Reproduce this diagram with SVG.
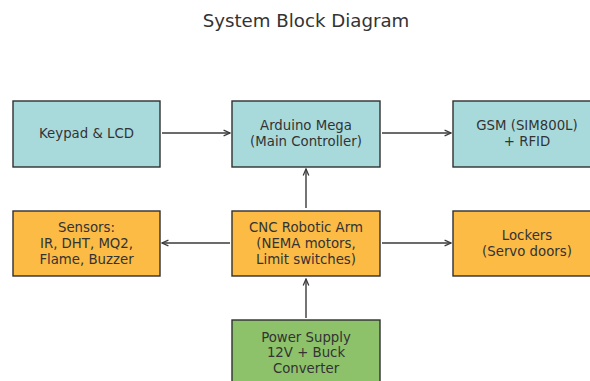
<svg xmlns="http://www.w3.org/2000/svg" width="590" height="381" viewBox="0 0 590 381">
  <style>
    .box { stroke: #2f2f2f; stroke-width: 1.4; }
    .ctrl { fill: #a8dadc; }
    .mech { fill: #fbbb45; }
    .power { fill: #8dc26b; }
    .lbl { font-family: "DejaVu Sans", sans-serif; font-size: 13.3px; fill: #333333; text-anchor: middle; }
    .title { font-family: "DejaVu Sans", sans-serif; font-size: 18.2px; fill: #333333; text-anchor: middle; }
    .conn { stroke: #3a3a3a; stroke-width: 1.4; fill: none; marker-end: url(#head); }
  </style>
  <defs>
    <marker id="head" viewBox="0 0 10 10" refX="9" refY="5" markerWidth="8" markerHeight="8" markerUnits="userSpaceOnUse" orient="auto">
      <path d="M1,1.5 L9,5 L1,8.5" fill="none" stroke="#3a3a3a" stroke-width="1.6"/>
    </marker>
  </defs>
  <rect width="590" height="381" fill="#ffffff"/>

  <text class="title" x="306" y="26.5">System Block Diagram</text>

  <g id="connectors">
    <line class="conn" x1="162" y1="133" x2="230" y2="133"/>
    <line class="conn" x1="382" y1="133" x2="451" y2="133"/>
    <line class="conn" x1="306" y1="208" x2="306" y2="169"/>
    <line class="conn" x1="230" y1="243" x2="162" y2="243"/>
    <line class="conn" x1="382" y1="243" x2="451" y2="243"/>
    <line class="conn" x1="306" y1="318" x2="306" y2="279"/>
  </g>

  <g id="keypad">
    <rect class="box ctrl" x="13" y="101" width="147" height="66"/>
    <text class="lbl" x="86.5" y="138">Keypad &amp; LCD</text>
  </g>

  <g id="arduino">
    <rect class="box ctrl" x="232" y="101" width="148" height="66"/>
    <text class="lbl" x="306" y="130">Arduino Mega</text>
    <text class="lbl" x="306" y="146">(Main Controller)</text>
  </g>

  <g id="gsm">
    <rect class="box ctrl" x="453" y="101" width="150" height="66"/>
    <text class="lbl" x="527" y="130">GSM (SIM800L)</text>
    <text class="lbl" x="527" y="146">+ RFID</text>
  </g>

  <g id="sensors">
    <rect class="box mech" x="13" y="211" width="147" height="65"/>
    <text class="lbl" x="86.5" y="232">Sensors:</text>
    <text class="lbl" x="86.5" y="248">IR, DHT, MQ2,</text>
    <text class="lbl" x="86.5" y="263.5">Flame, Buzzer</text>
  </g>

  <g id="cnc_arm">
    <rect class="box mech" x="232" y="211" width="148" height="65"/>
    <text class="lbl" x="306" y="232">CNC Robotic Arm</text>
    <text class="lbl" x="306" y="248">(NEMA motors,</text>
    <text class="lbl" x="306" y="263.5">Limit switches)</text>
  </g>

  <g id="lockers">
    <rect class="box mech" x="453" y="211" width="150" height="65"/>
    <text class="lbl" x="527" y="240">Lockers</text>
    <text class="lbl" x="527" y="256">(Servo doors)</text>
  </g>

  <g id="power_supply">
    <rect class="box power" x="232" y="320" width="148" height="70"/>
    <text class="lbl" x="306" y="341.5">Power Supply</text>
    <text class="lbl" x="306" y="357">12V + Buck</text>
    <text class="lbl" x="306" y="372.5">Converter</text>
  </g>
</svg>
